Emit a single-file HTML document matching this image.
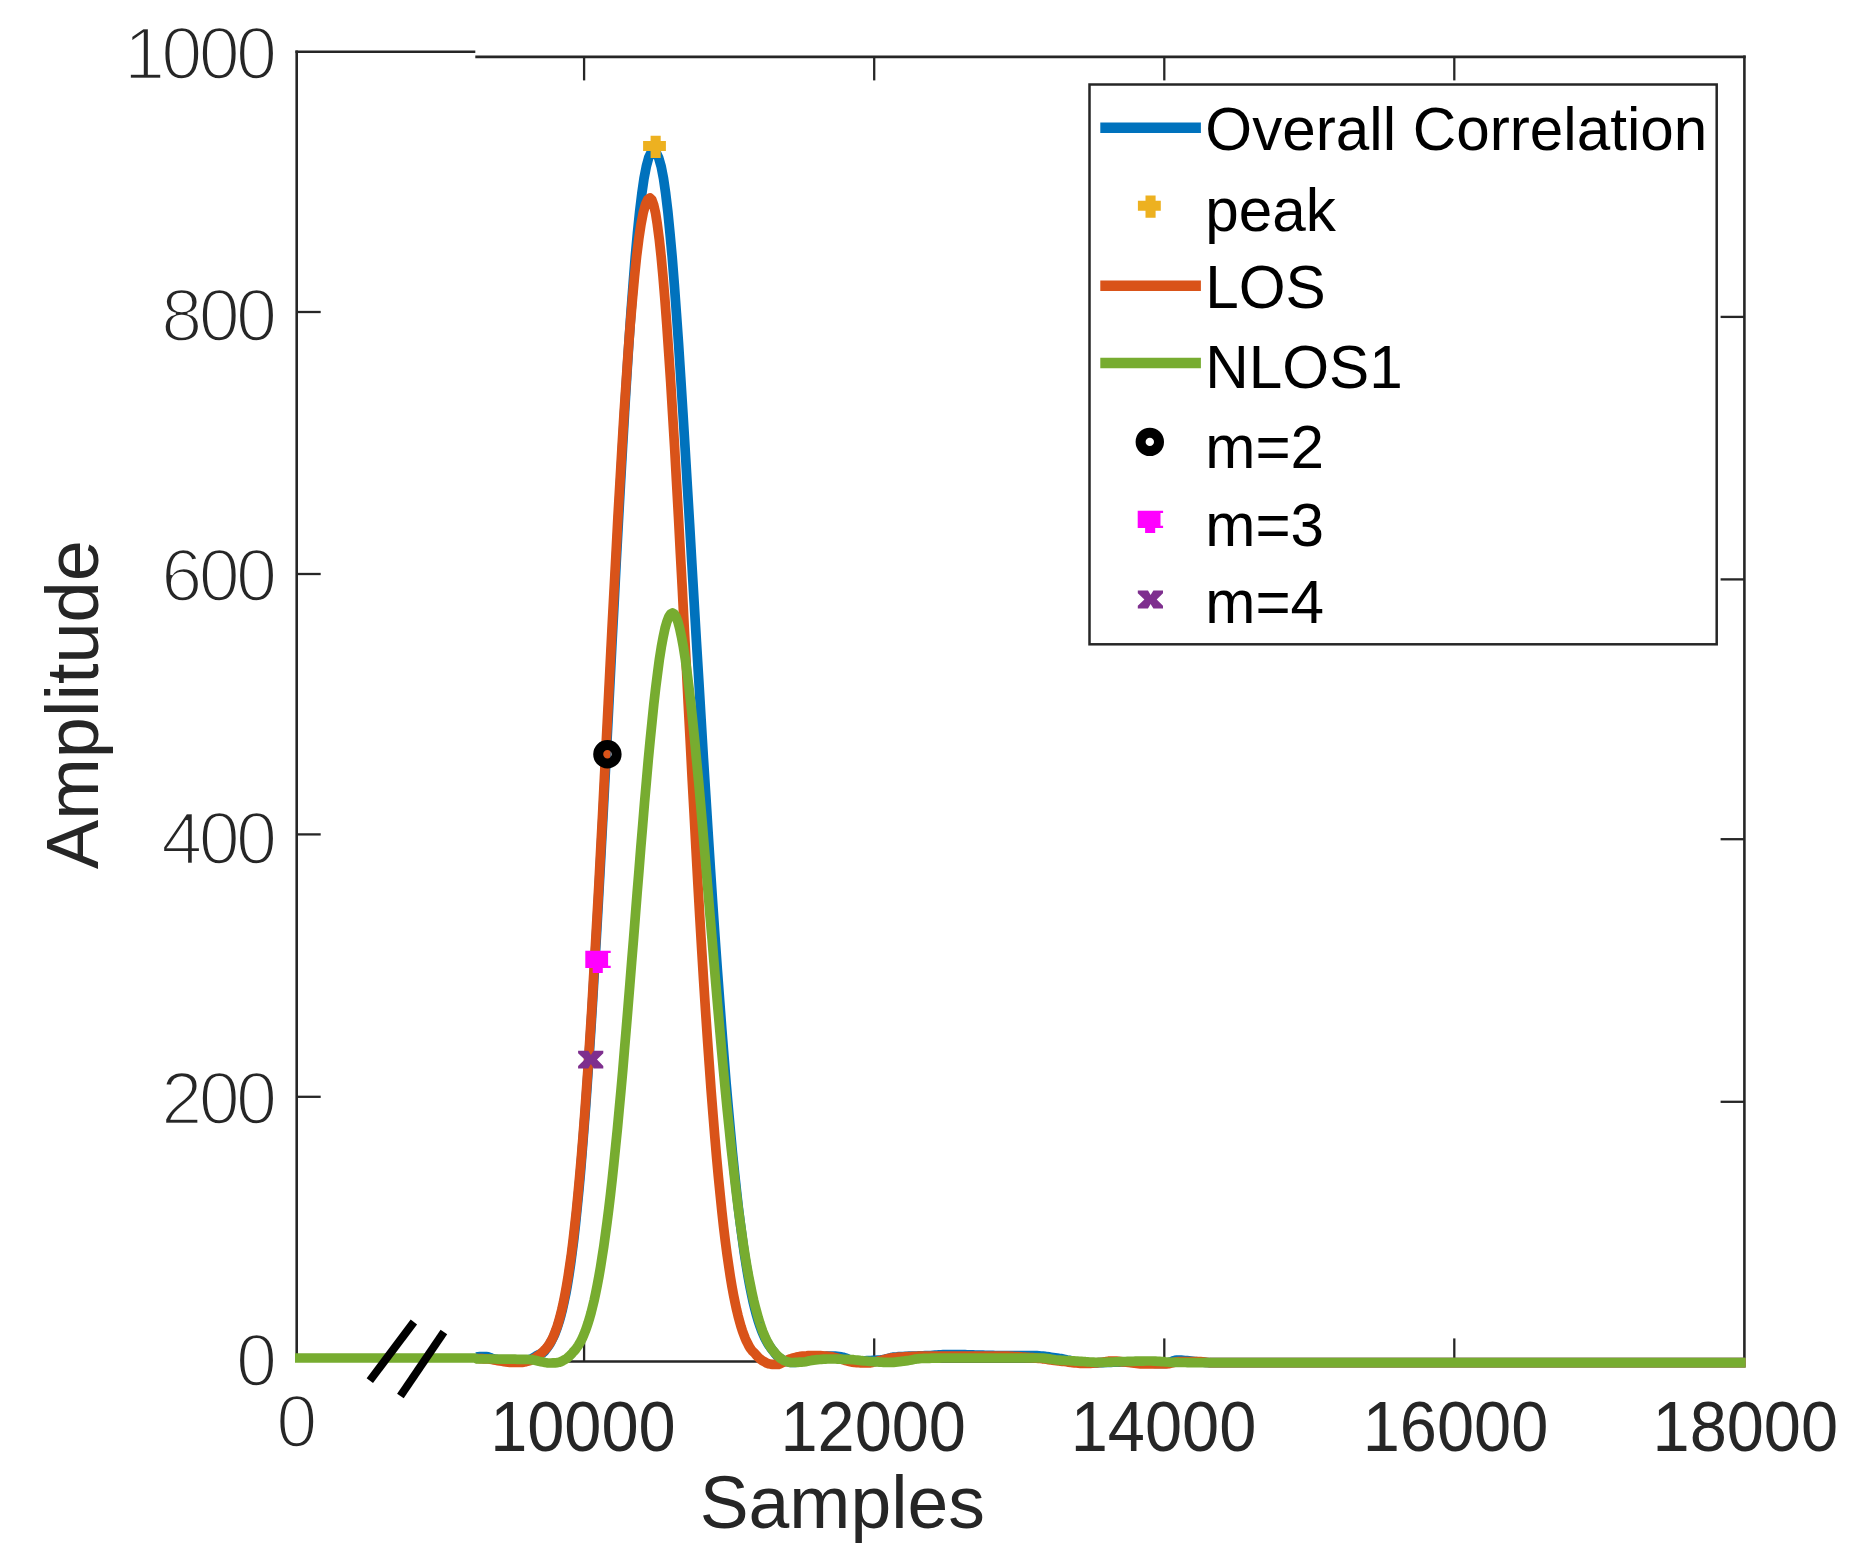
<!DOCTYPE html>
<html lang="en"><head><meta charset="utf-8"><title>Correlation plot</title>
<style>html,body{margin:0;padding:0;background:#fff}svg{display:block}</style></head>
<body>
<svg width="1863" height="1565" viewBox="0 0 1863 1565">
<rect width="1863" height="1565" fill="#fff"/>
<g stroke="#262626" stroke-width="2.6" fill="none" stroke-linecap="butt">
<path d="M296.7 50.4V1358"/>
<path d="M295.4 51.7H475.3"/>
<path d="M475.3 56.9H1745.7"/>
<path d="M1744.4 55.6V1358"/>
<path d="M560 1361.5H1745"/>
</g>
<g stroke="#262626" stroke-width="2.3" fill="none">
<path d="M297 312.0H320.7"/>
<path d="M297 574.0H320.7"/>
<path d="M297 834.4H320.7"/>
<path d="M297 1096.8H320.7"/>
<path d="M1720.6 316.9H1744"/>
<path d="M1720.6 579.4H1744"/>
<path d="M1720.6 839.2H1744"/>
<path d="M1720.6 1101.8H1744"/>
<path d="M584.1 57V80.4"/>
<path d="M584.1 1338.4V1361.5"/>
<path d="M874.2 57V80.4"/>
<path d="M874.2 1338.4V1361.5"/>
<path d="M1164.3 57V80.4"/>
<path d="M1164.3 1338.4V1361.5"/>
<path d="M1454.3 57V80.4"/>
<path d="M1454.3 1338.4V1361.5"/>
</g>
<g fill="none" stroke-width="9.7" stroke-linejoin="round" stroke-linecap="butt">
<path stroke="#0072BD" d="M476.0 1357.0L478.0 1356.8L480.0 1356.6L482.0 1356.5L484.0 1356.5L486.0 1356.5L488.0 1356.8L490.0 1357.5L492.0 1358.4L494.0 1359.0L496.0 1359.4L498.0 1359.7L500.0 1360.0L502.0 1360.3L504.0 1360.6L506.0 1361.0L508.0 1361.2L510.0 1361.4L512.0 1361.5L514.0 1361.5L516.0 1361.5L518.0 1361.4L520.0 1361.4L522.0 1361.3L524.0 1361.1L526.0 1360.7L528.0 1360.1L530.0 1359.5L532.0 1358.6L534.0 1357.3L536.0 1356.1L538.0 1355.0L540.0 1354.1L542.0 1353.2L542.5 1353.0L544.8 1351.0L545.9 1349.5L547.2 1347.8L548.6 1345.8L550.0 1343.6L551.5 1340.9L553.0 1337.9L554.6 1334.5L556.1 1330.6L557.7 1326.1L559.3 1321.1L560.9 1315.4L562.5 1309.0L564.1 1301.8L565.8 1293.8L567.4 1284.8L569.0 1274.9L570.6 1264.0L572.2 1251.9L573.9 1238.6L575.5 1224.1L577.1 1208.3L578.8 1191.1L580.5 1172.4L582.1 1152.3L583.8 1130.7L585.6 1107.6L587.3 1082.9L589.1 1056.6L590.9 1028.9L592.7 999.6L594.5 968.8L596.4 936.6L598.3 903.1L600.2 868.3L602.1 832.4L604.1 795.4L606.1 757.7L608.1 719.2L610.1 680.3L612.1 641.0L614.2 601.7L616.2 562.5L618.3 523.7L620.4 485.6L622.5 448.3L624.6 412.2L626.7 377.4L628.8 344.3L630.9 313.1L633.1 284.1L635.2 257.4L637.4 233.4L639.6 212.1L641.8 193.8L644.0 178.5L646.3 166.6L648.6 157.9L651.0 152.7L653.5 151.0L656.2 152.7L658.7 157.9L661.2 166.6L663.5 178.5L665.7 193.8L667.9 212.1L670.0 233.4L672.2 257.4L674.3 284.1L676.4 313.1L678.6 344.3L680.7 377.4L682.9 412.2L685.1 448.3L687.3 485.6L689.6 523.7L691.8 562.5L694.1 601.7L696.4 641.0L698.8 680.3L701.1 719.2L703.4 757.7L705.8 795.4L708.1 832.4L710.4 868.3L712.7 903.1L715.0 936.6L717.3 968.8L719.6 999.6L721.8 1028.9L724.0 1056.6L726.1 1082.9L728.3 1107.6L730.4 1130.7L732.4 1152.3L734.5 1172.4L736.5 1191.1L738.4 1208.3L740.4 1224.1L742.3 1238.6L744.1 1251.9L746.0 1264.0L747.8 1274.9L749.6 1284.8L751.4 1293.8L753.1 1301.8L754.9 1309.0L756.6 1315.4L758.3 1321.1L760.0 1326.1L761.6 1330.6L763.2 1334.5L764.8 1337.9L766.4 1340.9L767.9 1343.6L769.3 1345.8L770.7 1347.8L772.0 1349.5L773.2 1351.0L775.0 1353.5L777.0 1355.7L779.0 1357.5L781.0 1358.9L783.0 1360.1L785.0 1361.0L787.0 1361.6L789.0 1362.1L791.0 1362.5L793.0 1362.5L795.0 1362.3L797.0 1362.1L799.0 1361.7L801.0 1361.4L803.0 1361.0L805.0 1360.5L807.0 1360.0L809.0 1359.3L811.0 1358.7L813.0 1358.2L815.0 1357.8L817.0 1357.5L819.0 1357.1L821.0 1356.8L823.0 1356.5L825.0 1356.3L827.0 1356.1L829.0 1356.0L831.0 1356.0L833.0 1356.1L835.0 1356.2L837.0 1356.4L839.0 1356.6L841.0 1356.9L843.0 1357.2L845.0 1357.8L847.0 1358.6L849.0 1359.4L851.0 1360.2L853.0 1360.8L855.0 1361.0L857.0 1361.0L859.0 1361.0L861.0 1360.9L863.0 1360.9L865.0 1360.8L867.0 1360.7L869.0 1360.7L871.0 1360.6L873.0 1360.4L875.0 1360.3L877.0 1360.2L879.0 1360.1L881.0 1359.9L883.0 1359.6L885.0 1359.2L887.0 1358.6L889.0 1358.1L891.0 1357.6L893.0 1357.2L895.0 1357.0L897.0 1356.9L899.0 1356.7L901.0 1356.6L903.0 1356.5L905.0 1356.4L907.0 1356.3L909.0 1356.2L911.0 1356.2L913.0 1356.1L915.0 1356.0L917.0 1356.0L919.0 1355.9L921.0 1355.8L923.0 1355.8L925.0 1355.7L927.0 1355.6L929.0 1355.5L931.0 1355.5L933.0 1355.3L935.0 1355.2L937.0 1355.1L939.0 1354.9L941.0 1354.8L943.0 1354.7L945.0 1354.6L947.0 1354.5L949.0 1354.5L951.0 1354.5L953.0 1354.5L955.0 1354.5L957.0 1354.6L959.0 1354.6L961.0 1354.6L963.0 1354.7L965.0 1354.7L967.0 1354.8L969.0 1354.8L971.0 1354.9L973.0 1354.9L975.0 1355.0L977.0 1355.1L979.0 1355.1L981.0 1355.2L983.0 1355.2L985.0 1355.3L987.0 1355.3L989.0 1355.4L991.0 1355.4L993.0 1355.4L995.0 1355.5L997.0 1355.5L999.0 1355.5L1001.0 1355.5L1003.0 1355.5L1005.0 1355.5L1007.0 1355.5L1009.0 1355.5L1011.0 1355.5L1013.0 1355.5L1015.0 1355.5L1017.0 1355.5L1019.0 1355.5L1021.0 1355.5L1023.0 1355.5L1025.0 1355.5L1027.0 1355.5L1029.0 1355.5L1031.0 1355.5L1033.0 1355.5L1035.0 1355.6L1037.0 1355.7L1039.0 1355.8L1041.0 1356.0L1043.0 1356.2L1045.0 1356.4L1047.0 1356.7L1049.0 1356.9L1051.0 1357.2L1053.0 1357.5L1055.0 1357.8L1057.0 1358.1L1059.0 1358.4L1061.0 1358.6L1063.0 1359.0L1065.0 1359.4L1067.0 1359.9L1069.0 1360.3L1071.0 1360.8L1073.0 1361.3L1075.0 1361.7L1077.0 1362.1L1079.0 1362.5L1081.0 1362.8L1083.0 1362.9L1085.0 1363.0L1087.0 1363.0L1089.0 1363.0L1091.0 1362.9L1093.0 1362.9L1095.0 1362.8L1097.0 1362.8L1099.0 1362.7L1101.0 1362.6L1103.0 1362.6L1105.0 1362.5L1107.0 1362.4L1109.0 1362.4L1111.0 1362.3L1113.0 1362.2L1115.0 1362.2L1117.0 1362.1L1119.0 1362.1L1121.0 1362.0L1123.0 1362.0L1125.0 1362.0L1127.0 1362.0L1129.0 1362.0L1131.0 1362.1L1133.0 1362.2L1135.0 1362.2L1137.0 1362.3L1139.0 1362.4L1141.0 1362.5L1143.0 1362.6L1145.0 1362.8L1147.0 1362.9L1149.0 1363.0L1151.0 1363.1L1153.0 1363.2L1155.0 1363.3L1157.0 1363.3L1159.0 1363.4L1161.0 1363.5L1163.0 1363.5L1165.0 1363.5L1167.0 1363.2L1169.0 1362.6L1171.0 1361.8L1173.0 1360.9L1175.0 1360.3L1177.0 1360.0L1179.0 1360.0L1181.0 1360.1L1183.0 1360.3L1185.0 1360.5L1187.0 1360.7L1189.0 1360.9L1191.0 1361.1L1193.0 1361.3L1195.0 1361.5L1197.0 1361.7L1199.0 1361.8L1201.0 1362.0L1203.0 1362.1L1205.0 1362.3L1207.0 1362.5L1209.0 1362.6L1210.0 1362.7L1745.6 1362.7"/>
<path stroke="#D95319" d="M476.0 1358.5L478.0 1358.5L480.0 1358.6L482.0 1358.6L484.0 1358.8L486.0 1358.9L488.0 1359.0L490.0 1359.2L492.0 1359.5L494.0 1359.9L496.0 1360.3L498.0 1360.7L500.0 1361.0L502.0 1361.3L504.0 1361.6L506.0 1362.0L508.0 1362.2L510.0 1362.4L512.0 1362.5L514.0 1362.5L516.0 1362.5L518.0 1362.4L520.0 1362.4L522.0 1362.3L524.0 1362.1L526.0 1361.7L528.0 1361.1L530.0 1360.5L532.0 1359.6L534.0 1358.5L536.0 1357.2L538.0 1355.8L540.0 1354.3L541.5 1353.0L543.6 1351.0L545.1 1349.5L546.6 1347.9L548.1 1345.9L549.6 1343.6L551.1 1341.1L552.6 1338.1L554.1 1334.7L555.6 1330.8L557.2 1326.5L558.7 1321.5L560.2 1315.9L561.8 1309.7L563.4 1302.7L564.9 1294.8L566.5 1286.1L568.1 1276.5L569.7 1265.8L571.4 1254.1L573.0 1241.2L574.6 1227.1L576.3 1211.7L577.9 1195.1L579.6 1177.0L581.3 1157.6L583.0 1136.7L584.7 1114.3L586.4 1090.5L588.2 1065.2L589.9 1038.4L591.7 1010.2L593.4 980.6L595.2 949.6L597.0 917.4L598.9 884.0L600.7 849.5L602.6 814.1L604.4 777.9L606.3 741.0L608.2 703.7L610.1 666.1L612.0 628.5L614.0 591.0L616.0 553.9L617.9 517.4L620.0 481.8L622.0 447.2L624.0 414.1L626.1 382.5L628.1 352.7L630.2 325.0L632.4 299.5L634.5 276.6L636.6 256.3L638.8 238.8L641.0 224.3L643.2 212.8L645.5 204.6L647.7 199.7L650.0 198.0L651.8 199.7L653.6 204.6L655.5 212.8L657.3 224.3L659.2 238.8L661.1 256.3L663.0 276.6L664.9 299.5L666.8 325.0L668.7 352.7L670.7 382.5L672.6 414.1L674.6 447.2L676.5 481.8L678.5 517.4L680.4 553.9L682.4 591.0L684.3 628.5L686.3 666.1L688.2 703.7L690.2 741.0L692.1 777.9L694.1 814.1L696.0 849.5L697.9 884.0L699.8 917.4L701.7 949.6L703.6 980.6L705.5 1010.2L707.4 1038.4L709.3 1065.2L711.1 1090.5L713.0 1114.3L714.8 1136.7L716.6 1157.6L718.4 1177.0L720.2 1195.1L721.9 1211.7L723.6 1227.1L725.3 1241.2L727.0 1254.1L728.7 1265.8L730.3 1276.5L731.9 1286.1L733.5 1294.8L735.1 1302.7L736.6 1309.7L738.1 1315.9L739.6 1321.5L741.0 1326.5L742.4 1330.8L743.8 1334.7L745.1 1338.1L746.4 1341.1L747.7 1343.6L748.9 1345.9L750.1 1347.9L751.2 1349.5L752.3 1351.0L754.5 1353.0L756.5 1355.4L758.5 1357.5L760.5 1359.3L762.5 1360.7L764.5 1361.8L766.5 1362.9L768.5 1363.7L770.5 1364.1L772.5 1364.3L774.5 1364.4L776.5 1364.5L778.5 1364.3L780.5 1363.6L782.5 1362.7L784.5 1361.8L786.5 1360.7L788.5 1359.6L790.5 1358.8L792.5 1358.2L794.5 1357.6L796.5 1357.1L798.5 1356.7L800.5 1356.4L802.5 1356.2L804.5 1356.0L806.5 1355.9L808.5 1355.7L810.5 1355.6L812.5 1355.5L814.5 1355.5L816.5 1355.5L818.5 1355.6L820.5 1355.7L822.5 1355.8L824.5 1356.0L826.5 1356.1L828.5 1356.3L830.5 1356.6L832.5 1356.9L834.5 1357.4L836.5 1357.9L838.5 1358.5L840.5 1359.1L842.5 1359.6L844.5 1360.2L846.5 1360.7L848.5 1361.3L850.5 1361.8L852.5 1362.2L854.5 1362.5L856.5 1362.6L858.5 1362.7L860.5 1362.8L862.5 1362.9L864.5 1363.0L866.5 1363.0L868.5 1363.0L870.5 1362.8L872.5 1362.4L874.5 1361.9L876.5 1361.4L878.5 1360.8L880.5 1360.4L882.5 1360.0L884.5 1359.5L886.5 1359.0L888.5 1358.5L890.5 1358.1L892.5 1357.8L894.5 1357.5L896.5 1357.4L898.5 1357.2L900.5 1357.1L902.5 1357.0L904.5 1356.8L906.5 1356.7L908.5 1356.6L910.5 1356.5L912.5 1356.4L914.5 1356.3L916.5 1356.3L918.5 1356.2L920.5 1356.1L922.5 1356.1L924.5 1356.0L926.5 1356.0L928.5 1356.0L930.5 1356.0L932.5 1356.0L934.5 1356.0L936.5 1356.0L938.5 1356.0L940.5 1356.0L942.5 1356.0L944.5 1356.0L946.5 1356.0L948.5 1356.0L950.5 1356.0L952.5 1356.0L954.5 1356.0L956.5 1356.0L958.5 1356.0L960.5 1356.0L962.5 1356.0L964.5 1356.0L966.5 1356.0L968.5 1356.0L970.5 1356.0L972.5 1356.0L974.5 1356.0L976.5 1356.0L978.5 1356.0L980.5 1356.0L982.5 1356.0L984.5 1356.0L986.5 1356.0L988.5 1356.0L990.5 1356.0L992.5 1356.0L994.5 1356.0L996.5 1356.0L998.5 1356.0L1000.5 1356.0L1002.5 1356.0L1004.5 1356.1L1006.5 1356.1L1008.5 1356.2L1010.5 1356.3L1012.5 1356.4L1014.5 1356.5L1016.5 1356.6L1018.5 1356.7L1020.5 1356.8L1022.5 1357.0L1024.5 1357.1L1026.5 1357.3L1028.5 1357.4L1030.5 1357.5L1032.5 1357.7L1034.5 1357.9L1036.5 1358.1L1038.5 1358.3L1040.5 1358.5L1042.5 1358.8L1044.5 1359.0L1046.5 1359.3L1048.5 1359.6L1050.5 1359.8L1052.5 1360.1L1054.5 1360.4L1056.5 1360.6L1058.5 1360.8L1060.5 1361.1L1062.5 1361.3L1064.5 1361.5L1066.5 1361.8L1068.5 1362.1L1070.5 1362.3L1072.5 1362.6L1074.5 1362.8L1076.5 1363.0L1078.5 1363.2L1080.5 1363.4L1082.5 1363.5L1084.5 1363.5L1086.5 1363.5L1088.5 1363.4L1090.5 1363.3L1092.5 1363.2L1094.5 1363.0L1096.5 1362.8L1098.5 1362.6L1100.5 1362.5L1102.5 1362.2L1104.5 1361.9L1106.5 1361.5L1108.5 1361.2L1110.5 1361.1L1112.5 1361.0L1114.5 1361.1L1116.5 1361.2L1118.5 1361.4L1120.5 1361.6L1122.5 1361.8L1124.5 1362.0L1126.5 1362.1L1128.5 1362.4L1130.5 1362.6L1132.5 1362.9L1134.5 1363.2L1136.5 1363.4L1138.5 1363.6L1140.5 1363.8L1142.5 1363.9L1144.5 1364.0L1146.5 1364.0L1148.5 1364.0L1150.5 1364.0L1152.5 1364.0L1154.5 1364.0L1156.5 1364.0L1158.5 1364.0L1160.5 1364.0L1162.5 1364.0L1164.5 1364.0L1166.5 1363.9L1168.5 1363.7L1170.5 1363.2L1172.5 1362.8L1174.5 1362.3L1176.5 1361.8L1178.5 1361.6L1180.5 1361.5L1182.5 1361.5L1184.5 1361.5L1186.5 1361.5L1188.5 1361.5L1190.5 1361.5L1192.5 1361.5L1194.5 1361.5L1196.5 1361.5L1198.5 1361.6L1200.5 1361.7L1202.5 1361.9L1204.5 1362.1L1206.5 1362.3L1208.5 1362.5L1210.0 1362.7L1745.6 1362.7"/>
<path stroke="#77AC30" d="M295.0 1358.0L475.0 1358.0L477.0 1359.0L479.0 1359.0L481.0 1359.0L483.0 1359.0L485.0 1359.0L487.0 1359.0L489.0 1359.0L491.0 1359.0L493.0 1359.0L495.0 1359.0L497.0 1359.1L499.0 1359.1L501.0 1359.1L503.0 1359.1L505.0 1359.1L507.0 1359.1L509.0 1359.2L511.0 1359.2L513.0 1359.2L515.0 1359.2L517.0 1359.3L519.0 1359.3L521.0 1359.3L523.0 1359.4L525.0 1359.4L527.0 1359.4L529.0 1359.5L531.0 1359.6L533.0 1359.9L535.0 1360.3L537.0 1360.8L539.0 1361.3L541.0 1361.7L543.0 1362.1L545.0 1362.5L547.0 1362.8L549.0 1363.0L551.0 1363.0L553.0 1362.9L555.0 1362.8L557.0 1362.6L559.0 1362.3L561.0 1361.6L563.0 1360.6L565.0 1359.5L567.0 1358.2L569.0 1356.5L571.0 1354.6L572.0 1353.5L573.1 1352.0L574.4 1350.7L575.7 1349.2L576.9 1347.5L578.3 1345.5L579.6 1343.3L581.0 1340.8L582.4 1338.0L583.8 1334.8L585.2 1331.3L586.6 1327.3L588.1 1322.9L589.6 1318.0L591.1 1312.6L592.6 1306.6L594.2 1300.1L595.7 1292.9L597.3 1285.0L598.9 1276.5L600.5 1267.2L602.1 1257.1L603.8 1246.2L605.4 1234.5L607.1 1222.0L608.8 1208.7L610.5 1194.4L612.2 1179.3L613.9 1163.3L615.6 1146.5L617.4 1128.8L619.1 1110.4L620.9 1091.1L622.7 1071.1L624.4 1050.5L626.2 1029.2L628.0 1007.4L629.8 985.1L631.6 962.5L633.5 939.5L635.3 916.5L637.1 893.3L639.0 870.3L640.8 847.4L642.7 824.9L644.5 802.9L646.4 781.4L648.2 760.7L650.1 740.8L652.0 722.0L653.8 704.3L655.7 687.8L657.6 672.8L659.4 659.2L661.3 647.2L663.2 636.9L665.0 628.4L666.9 621.7L668.8 616.9L670.6 614.0L672.5 613.0L674.3 614.0L676.1 616.9L677.9 621.7L679.7 628.4L681.5 636.9L683.4 647.2L685.3 659.2L687.1 672.8L689.0 687.8L690.9 704.3L692.8 722.0L694.7 740.8L696.6 760.7L698.6 781.4L700.5 802.9L702.4 824.9L704.3 847.4L706.3 870.3L708.2 893.3L710.1 916.5L712.1 939.5L714.0 962.5L715.9 985.1L717.8 1007.4L719.7 1029.2L721.6 1050.5L723.5 1071.1L725.4 1091.1L727.3 1110.4L729.2 1128.8L731.0 1146.5L732.9 1163.3L734.7 1179.3L736.5 1194.4L738.3 1208.7L740.1 1222.0L741.9 1234.5L743.6 1246.2L745.3 1257.1L747.0 1267.2L748.7 1276.5L750.4 1285.0L752.0 1292.9L753.6 1300.1L755.2 1306.6L756.8 1312.6L758.3 1318.0L759.8 1322.9L761.3 1327.3L762.7 1331.3L764.2 1334.8L765.5 1338.0L766.9 1340.8L768.2 1343.3L769.5 1345.5L770.7 1347.5L771.9 1349.2L773.1 1350.7L774.2 1352.0L775.5 1353.5L777.5 1355.7L779.5 1357.5L781.5 1359.0L783.5 1360.3L785.5 1361.2L787.5 1361.8L789.5 1362.3L791.5 1362.5L793.5 1362.5L795.5 1362.4L797.5 1362.4L799.5 1362.2L801.5 1362.1L803.5 1362.0L805.5 1361.7L807.5 1361.3L809.5 1360.8L811.5 1360.4L813.5 1360.1L815.5 1359.9L817.5 1359.7L819.5 1359.5L821.5 1359.3L823.5 1359.2L825.5 1359.1L827.5 1359.0L829.5 1359.0L831.5 1359.0L833.5 1359.0L835.5 1359.0L837.5 1359.1L839.5 1359.1L841.5 1359.2L843.5 1359.3L845.5 1359.3L847.5 1359.4L849.5 1359.5L851.5 1359.6L853.5 1359.7L855.5 1360.0L857.5 1360.2L859.5 1360.4L861.5 1360.7L863.5 1360.9L865.5 1361.0L867.5 1361.2L869.5 1361.3L871.5 1361.5L873.5 1361.6L875.5 1361.8L877.5 1361.9L879.5 1362.1L881.5 1362.2L883.5 1362.3L885.5 1362.3L887.5 1362.4L889.5 1362.4L891.5 1362.4L893.5 1362.3L895.5 1362.1L897.5 1361.9L899.5 1361.7L901.5 1361.4L903.5 1361.2L905.5 1360.9L907.5 1360.6L909.5 1360.3L911.5 1359.9L913.5 1359.5L915.5 1359.1L917.5 1358.8L919.5 1358.6L921.5 1358.5L923.5 1358.4L925.5 1358.4L927.5 1358.3L929.5 1358.3L931.5 1358.2L933.5 1358.2L935.5 1358.1L937.5 1358.1L939.5 1358.1L941.5 1358.0L943.5 1358.0L945.5 1358.0L947.5 1358.0L949.5 1358.0L951.5 1358.0L953.5 1358.0L955.5 1358.0L957.5 1358.0L959.5 1358.0L961.5 1358.0L963.5 1358.0L965.5 1358.0L967.5 1358.0L969.5 1358.0L971.5 1358.0L973.5 1358.0L975.5 1358.0L977.5 1358.0L979.5 1358.0L981.5 1358.0L983.5 1358.0L985.5 1358.0L987.5 1358.0L989.5 1358.0L991.5 1358.0L993.5 1358.0L995.5 1358.0L997.5 1358.0L999.5 1358.0L1001.5 1358.0L1003.5 1358.0L1005.5 1358.0L1007.5 1358.0L1009.5 1358.0L1011.5 1358.0L1013.5 1358.0L1015.5 1358.0L1017.5 1358.0L1019.5 1358.0L1021.5 1358.0L1023.5 1358.0L1025.5 1358.0L1027.5 1358.0L1029.5 1358.0L1031.5 1358.0L1033.5 1358.0L1035.5 1358.0L1037.5 1358.0L1039.5 1358.0L1041.5 1358.0L1043.5 1358.2L1045.5 1358.4L1047.5 1358.6L1049.5 1358.9L1051.5 1359.2L1053.5 1359.5L1055.5 1359.8L1057.5 1360.0L1059.5 1360.1L1061.5 1360.3L1063.5 1360.4L1065.5 1360.5L1067.5 1360.6L1069.5 1360.7L1071.5 1360.8L1073.5 1360.9L1075.5 1361.1L1077.5 1361.2L1079.5 1361.3L1081.5 1361.4L1083.5 1361.5L1085.5 1361.7L1087.5 1361.8L1089.5 1362.0L1091.5 1362.1L1093.5 1362.2L1095.5 1362.3L1097.5 1362.4L1099.5 1362.4L1101.5 1362.4L1103.5 1362.4L1105.5 1362.3L1107.5 1362.2L1109.5 1362.2L1111.5 1362.1L1113.5 1362.0L1115.5 1361.9L1117.5 1361.8L1119.5 1361.7L1121.5 1361.6L1123.5 1361.5L1125.5 1361.5L1127.5 1361.4L1129.5 1361.4L1131.5 1361.3L1133.5 1361.3L1135.5 1361.2L1137.5 1361.2L1139.5 1361.1L1141.5 1361.1L1143.5 1361.1L1145.5 1361.0L1147.5 1361.0L1149.5 1361.0L1151.5 1361.0L1153.5 1361.1L1155.5 1361.2L1157.5 1361.3L1159.5 1361.4L1161.5 1361.6L1163.5 1361.7L1165.5 1361.9L1167.5 1362.0L1169.5 1362.2L1171.5 1362.3L1173.5 1362.4L1175.5 1362.4L1177.5 1362.4L1179.5 1362.5L1181.5 1362.5L1183.5 1362.5L1185.5 1362.5L1187.5 1362.6L1189.5 1362.6L1191.5 1362.6L1193.5 1362.6L1195.5 1362.6L1197.5 1362.7L1199.5 1362.7L1201.5 1362.7L1203.5 1362.7L1205.5 1362.7L1207.5 1362.7L1209.5 1362.7L1210.0 1362.7L1745.6 1362.7"/>
</g>
<polygon fill="#EDB120" points="650.6,135.8 660.7,135.8 660.7,140.9 665.9,140.9 665.9,151.1 660.7,151.1 660.7,158.0 650.6,158.0 650.6,151.1 643.1,151.1 643.1,140.9 650.6,140.9"/>
<circle cx="607.4" cy="754.2" r="9.2" fill="none" stroke="#000" stroke-width="10"/>
<path fill="#FF00FF" d="M585.3 950.8h25.4v2.2h-2.6v12.8h2.6v2.2h-7.9v5h-10.1v-5h-7.4z"/>
<polygon fill="#7E2F8E" points="578.1,1050.7 588.3,1050.7 590.9,1055.1 593.7,1050.7 603.3,1050.7 603.3,1053.3 597.0,1059.6 603.3,1065.9 603.3,1068.5 593.7,1068.5 590.9,1064.1 588.3,1068.5 578.1,1068.5 578.1,1065.9 584.7,1059.6 578.1,1053.3"/>
<g stroke="#000" stroke-width="8" stroke-linecap="butt">
<path d="M369.8 1380.6L413.9 1322"/>
<path d="M400.4 1396.1L443.9 1332"/>
</g>
<rect x="1089.5" y="84.5" width="627.2" height="559.8" fill="#fff" stroke="#262626" stroke-width="2.5"/>
<path stroke="#0072BD" stroke-width="10.4" d="M1100.3 127.8H1200.9"/>
<polygon fill="#EDB120" points="1145.5,195.6 1155.6,195.6 1155.6,200.7 1160.8,200.7 1160.8,210.8 1155.6,210.8 1155.6,217.8 1145.5,217.8 1145.5,210.8 1137.9,210.8 1137.9,200.7 1145.5,200.7"/>
<path stroke="#D95319" stroke-width="10.4" d="M1100.3 285.7H1200.9"/>
<path stroke="#77AC30" stroke-width="10.4" d="M1100.3 363H1200.9"/>
<circle cx="1149.8" cy="441.9" r="9.2" fill="none" stroke="#000" stroke-width="10"/>
<path fill="#FF00FF" d="M1137.7 510.7h25.4v2.2h-2.6v12.8h2.6v2.2h-7.9v5h-10.1v-5h-7.4z"/>
<polygon fill="#7E2F8E" points="1137.8,590.6 1148.0,590.6 1150.6,595.0 1153.4,590.6 1163.0,590.6 1163.0,593.2 1156.7,599.5 1163.0,605.8 1163.0,608.4 1153.4,608.4 1150.6,604.0 1148.0,608.4 1137.8,608.4 1137.8,605.8 1144.4,599.5 1137.8,593.2"/>
<g font-family="'Liberation Sans', Arial, sans-serif">
<text transform="translate(1205.3 150.4) scale(0.9840 1)" font-size="61.2" text-anchor="start" fill="#000" >Overall Correlation</text>
<text transform="translate(1205.3 230.6) scale(0.9840 1)" font-size="61.2" text-anchor="start" fill="#000" >peak</text>
<text transform="translate(1205.3 308.2) scale(0.9840 1)" font-size="61.2" text-anchor="start" fill="#000" >LOS</text>
<text transform="translate(1205.3 387.9) scale(0.9840 1)" font-size="61.2" text-anchor="start" fill="#000" >NLOS1</text>
<text transform="translate(1205.3 467.8) scale(0.9840 1)" font-size="61.2" text-anchor="start" fill="#000" >m=2</text>
<text transform="translate(1205.3 545.6) scale(0.9840 1)" font-size="61.2" text-anchor="start" fill="#000" >m=3</text>
<text transform="translate(1205.3 622.7) scale(0.9840 1)" font-size="61.2" text-anchor="start" fill="#000" >m=4</text>
<text transform="translate(273.4 78.6) scale(1.0000 1)" font-size="73.8" text-anchor="end" fill="#262626" stroke="#fff" stroke-width="2.40" letter-spacing="-3.70">1000</text>
<text transform="translate(273.4 341.4) scale(1.0000 1)" font-size="73.8" text-anchor="end" fill="#262626" stroke="#fff" stroke-width="2.40" letter-spacing="-3.70">800</text>
<text transform="translate(273.4 601.4) scale(1.0000 1)" font-size="73.8" text-anchor="end" fill="#262626" stroke="#fff" stroke-width="2.40" letter-spacing="-3.70">600</text>
<text transform="translate(273.4 864.2) scale(1.0000 1)" font-size="73.8" text-anchor="end" fill="#262626" stroke="#fff" stroke-width="2.40" letter-spacing="-3.70">400</text>
<text transform="translate(273.4 1124.2) scale(1.0000 1)" font-size="73.8" text-anchor="end" fill="#262626" stroke="#fff" stroke-width="2.40" letter-spacing="-3.70">200</text>
<text transform="translate(273.4 1386.1) scale(1.0000 1)" font-size="73.8" text-anchor="end" fill="#262626" stroke="#fff" stroke-width="2.40" letter-spacing="-3.70">0</text>
<text transform="translate(296.7 1447.3) scale(1.0000 1)" font-size="73.8" text-anchor="middle" fill="#262626" stroke="#fff" stroke-width="2.40">0</text>
<text transform="translate(582.9 1450.5) scale(0.9600 1)" font-size="69.5" text-anchor="middle" fill="#262626" >10000</text>
<text transform="translate(873.2 1450.5) scale(0.9600 1)" font-size="69.5" text-anchor="middle" fill="#262626" >12000</text>
<text transform="translate(1163.5 1450.5) scale(0.9600 1)" font-size="69.5" text-anchor="middle" fill="#262626" >14000</text>
<text transform="translate(1455.5 1450.5) scale(0.9600 1)" font-size="69.5" text-anchor="middle" fill="#262626" >16000</text>
<text transform="translate(1745.3 1450.5) scale(0.9600 1)" font-size="69.5" text-anchor="middle" fill="#262626" >18000</text>
<text transform="translate(842.3 1527.9) scale(1.0000 1)" font-size="73.3" text-anchor="middle" fill="#262626" >Samples</text>
<text transform="translate(98.3 704.6) rotate(-90)" font-size="74" text-anchor="middle" fill="#262626">Amplitude</text>
</g>
</svg>
</body></html>
